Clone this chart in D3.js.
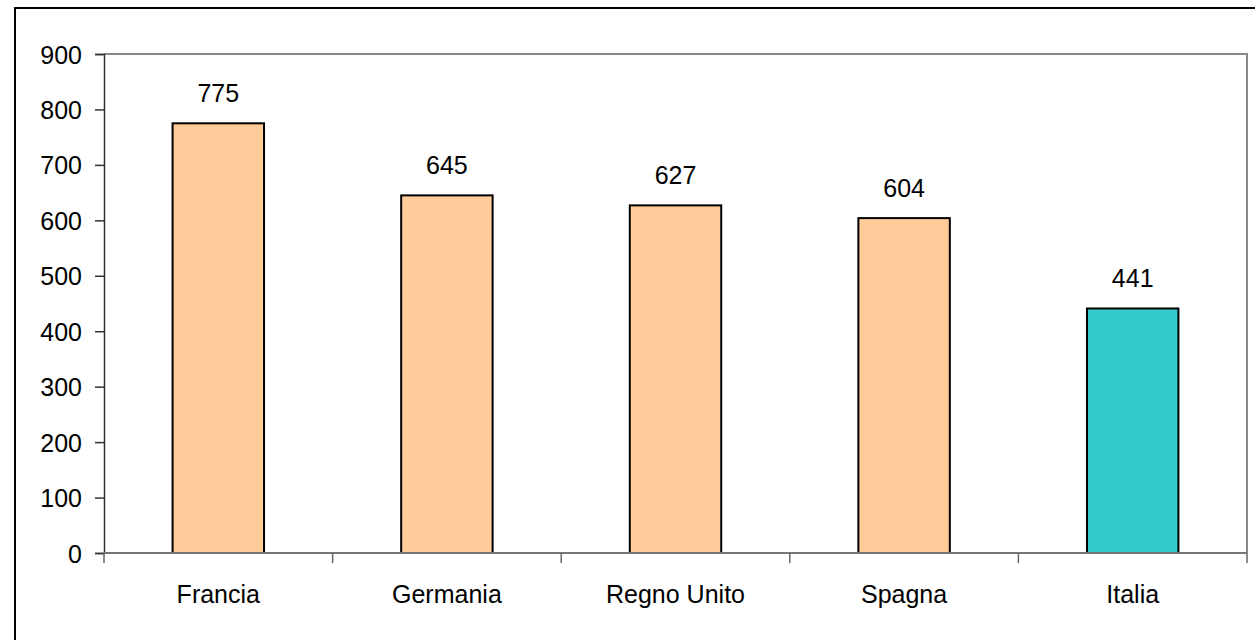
<!DOCTYPE html>
<html>
<head>
<meta charset="utf-8">
<script src="https://cdn.jsdelivr.net/npm/d3@7"></script>
<style>
    body { margin: 0; background: #fff; }
    svg text { font-family: "Liberation Sans", Arial, sans-serif; fill: #000; }
</style>
</head>
<body>
<div id="chart"></div>
<script>
// chart data
const countries = ["Francia", "Germania", "Regno Unito", "Spagna", "Italia"];
const values = [775, 645, 627, 604, 441];
const yTicks = [0, 100, 200, 300, 400, 500, 600, 700, 800, 900];
const highlight = "Italia";

document.addEventListener("DOMContentLoaded", function () {

    let W = 1255, H = 640;
    let plot = { left: 104, top: 54, right: 1247, bottom: 553 };
    let fontSize = "25px";

    let svg = d3.select("#chart")
        .append("svg")
            .attr("width", W)
            .attr("height", H);

    // outer frame (right/bottom edges run off the picture)
    svg.append("rect")
        .attr("x", 15).attr("y", 8)
        .attr("width", W + 20).attr("height", H + 20)
        .attr("fill", "none")
        .attr("stroke", "#000")
        .attr("stroke-width", 2);

    let x = d3.scaleBand()
        .domain(countries)
        .range([plot.left, plot.right])
        .paddingInner(0.6)
        .paddingOuter(0.3);

    let y = d3.scaleLinear()
        .domain([0, 900])
        .range([plot.bottom, plot.top]);

    // plot area border: gray top and right
    svg.append("path")
        .attr("d", `M${plot.left},${plot.top}H${plot.right}V${plot.bottom}`)
        .attr("fill", "none")
        .attr("stroke", "#888")
        .attr("stroke-width", 2);

    // bars
    let data = countries.map((c, i) => ({ name: c, value: values[i] }));

    svg.selectAll(".bar")
        .data(data)
        .enter()
        .append("rect")
            .attr("class", "bar")
            .attr("x", d => x(d.name))
            .attr("y", d => y(d.value))
            .attr("width", x.bandwidth())
            .attr("height", d => y(0) - y(d.value))
            .attr("fill", d => d.name === highlight ? "#33CCCC" : "#FFCC99")
            .attr("stroke", "#000")
            .attr("stroke-width", 2);

    // value labels
    svg.selectAll(".val")
        .data(data)
        .enter()
        .append("text")
            .attr("class", "val")
            .attr("x", d => x(d.name) + x.bandwidth() / 2)
            .attr("y", d => y(d.value) - 21)
            .attr("text-anchor", "middle")
            .style("font-size", fontSize)
            .text(d => d.value);

    // y axis
    let yAxis = svg.append("g")
        .attr("transform", "translate(" + plot.left + ",0)")
        .call(d3.axisLeft(y).tickValues(yTicks).tickSize(9).tickPadding(13));
    yAxis.attr("font-size", null).attr("font-family", null);
    yAxis.selectAll("text").style("font-size", fontSize).attr("dy", "0.36em");
    yAxis.selectAll("line").attr("stroke", "#333").attr("stroke-width", 1.5);
    yAxis.select(".domain").attr("stroke", "#333").attr("stroke-width", 1.5);

    // x axis: ticks sit on category boundaries
    let bounds = d3.range(countries.length + 1).map(i => plot.left + i * x.step());
    let xAxis = svg.append("g");
    xAxis.append("line")
        .attr("x1", plot.left).attr("x2", plot.right)
        .attr("y1", plot.bottom).attr("y2", plot.bottom)
        .attr("stroke", "#777").attr("stroke-width", 2);
    xAxis.selectAll(".xt")
        .data(bounds)
        .enter()
        .append("line")
            .attr("class", "xt")
            .attr("x1", d => d).attr("x2", d => d)
            .attr("y1", plot.bottom).attr("y2", plot.bottom + 10)
            .attr("stroke", "#666").attr("stroke-width", 1.5);
    xAxis.selectAll(".xl")
        .data(countries)
        .enter()
        .append("text")
            .attr("class", "xl")
            .attr("x", d => x(d) + x.bandwidth() / 2)
            .attr("y", plot.bottom + 50)
            .attr("text-anchor", "middle")
            .style("font-size", fontSize)
            .text(d => d);
});
</script>
</body>
</html>
